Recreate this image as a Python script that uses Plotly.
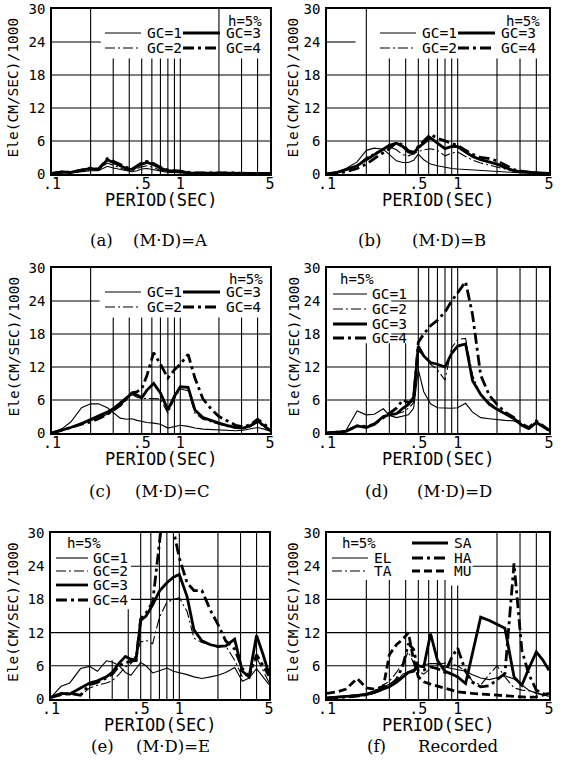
import plotly.graph_objects as go

# ---------------- data ----------------
PERIOD = [0.1, 0.12, 0.14, 0.17, 0.2, 0.23, 0.27, 0.3, 0.34, 0.38, 0.42, 0.46, 0.5, 0.55, 0.62,
          0.7, 0.8, 0.9, 1.0, 1.15, 1.3, 1.5, 1.75, 2.0, 2.3, 2.7, 3.1, 3.5, 4.0, 4.5, 5.0]

A_GC1 = [0, .2, .2, .4, .6, .6, 1.4, 1.1, .8, .5, .4, .6, .9, 1.0, .8, .5, .3, .3, .2, .1, .1, .1, .1, .1, .1, .1, .1, .1, .1, .1, .1]
A_GC2 = [0, .3, .2, .5, .8, .8, 2.0, 1.6, 1.1, .7, .6, 1.0, 1.3, 1.5, 1.2, .7, .4, .4, .3, .1, .1, .1, .1, .1, .1, .1, .1, .1, .1, .1, .1]
A_GC3 = [.1, .4, .3, .7, 1.0, .8, 2.6, 2.1, 1.5, 1.0, .8, 1.3, 1.8, 2.1, 1.7, 1.1, .6, .5, .5, .2, .2, .2, .2, .2, .2, .1, .1, .1, .1, .1, .1]
A_GC4 = [.1, .4, .3, .8, 1.1, .9, 2.8, 2.3, 1.7, 1.2, .9, 1.4, 2.0, 2.3, 1.9, 1.2, .7, .6, .5, .3, .2, .2, .2, .3, .2, .2, .1, .1, .1, .1, .1]

B_GC1 = [0, .4, 1.0, 2.2, 4.3, 4.7, 4.5, 3.5, 2.4, 2.1, 2.1, 2.5, 3.6, 2.6, 1.8, 1.5, 1.2, 1.0, .9, .8, .7, .6, .6, .5, .4, .3, .2, .2, .1, .1, .1]
B_GC2 = [0, .3, .7, 1.6, 3.0, 3.8, 4.6, 5.0, 4.4, 3.5, 3.3, 3.7, 4.1, 4.4, 4.6, 4.3, 3.3, 3.8, 4.0, 3.2, 2.5, 2.0, 1.6, 1.2, .8, .5, .3, .2, .2, .1, .1]
B_GC3 = [0, .3, .8, 1.5, 2.6, 3.5, 4.5, 5.2, 5.6, 5.0, 4.0, 3.8, 4.8, 5.6, 6.6, 5.6, 4.6, 5.0, 5.0, 4.0, 3.2, 2.6, 2.2, 1.8, 1.2, .6, .4, .3, .2, .1, .1]
B_GC4 = [0, .2, .4, 1.0, 1.8, 2.8, 3.8, 4.6, 5.7, 5.3, 4.2, 4.0, 5.0, 6.0, 7.2, 6.5, 6.0, 5.6, 5.2, 4.3, 3.6, 3.0, 2.8, 2.4, 1.6, .8, .5, .3, .2, .1, .1]

C_GC1 = [0, .8, 2.0, 4.6, 5.3, 5.3, 4.6, 3.8, 2.7, 2.5, 2.6, 2.3, 2.1, 1.9, 1.8, 1.6, .9, 1.1, 1.4, 1.2, .9, .7, .6, .6, .5, .4, .5, .7, 1.0, .7, .3]
C_GC2 = [0, .5, 1.0, 1.6, 2.2, 2.7, 3.4, 4.0, 5.0, 6.0, 7.0, 6.5, 6.3, 6.3, 6.3, 6.2, 3.6, 6.2, 8.0, 7.7, 3.6, 2.5, 2.0, 1.6, 1.2, .9, .8, 1.1, 1.9, 1.1, .4]
C_GC3 = [0, .5, 1.0, 1.7, 2.4, 3.0, 3.8, 4.4, 5.4, 6.4, 7.2, 6.9, 6.4, 7.8, 9.0, 7.3, 4.2, 6.7, 8.4, 8.3, 4.2, 2.8, 2.2, 1.8, 1.4, 1.0, .9, 1.3, 2.2, 1.3, .5]
C_GC4 = [0, .5, 1.0, 1.6, 2.0, 2.6, 3.4, 4.1, 5.0, 6.2, 7.3, 7.5, 8.0, 10.5, 14.6, 12.5, 10.0, 11.5, 12.5, 14.3, 10.0, 6.2, 4.3, 3.0, 2.2, 1.4, 1.1, 1.5, 2.5, 1.6, .8]

D_GC1 = [0, .1, .5, 4.0, 3.3, 3.4, 4.4, 3.2, 2.8, 3.0, 3.3, 4.5, 11.5, 7.5, 5.3, 4.6, 4.5, 4.5, 4.6, 5.4, 3.8, 2.8, 2.6, 2.4, 2.3, 2.2, 1.5, 1.0, 1.8, 1.2, .5]
D_GC2 = [0, .1, .3, 1.2, 1.0, 1.8, 2.8, 3.2, 3.5, 3.8, 4.5, 5.5, 15.0, 14.0, 12.5, 11.5, 9.6, 15.5, 17.0, 17.2, 10.5, 7.0, 5.5, 4.5, 3.5, 2.6, 1.6, .9, 2.0, 1.2, .5]
D_GC3 = [0, .1, .3, 1.3, 1.0, 1.6, 3.0, 3.3, 3.5, 4.5, 5.2, 6.5, 15.8, 14.0, 12.8, 12.5, 12.0, 14.5, 15.8, 16.2, 9.5, 7.0, 5.2, 4.3, 3.5, 2.6, 1.4, .8, 1.9, 1.2, .5]
D_GC4 = [0, .1, .3, 1.3, 1.2, 1.6, 2.8, 3.5, 4.5, 6.0, 5.5, 6.0, 16.5, 18.0, 19.5, 20.5, 22.0, 24.0, 25.5, 27.5, 21.5, 10.5, 6.8, 5.2, 3.8, 2.8, 1.6, 1.0, 2.2, 1.3, .5]

E_GC1 = [.3, 2.3, 2.9, 5.5, 5.9, 5.0, 6.9, 6.7, 6.0, 4.8, 4.3, 5.5, 6.6, 6.0, 4.7, 5.1, 5.6, 5.0, 4.8, 4.4, 4.0, 3.7, 4.0, 4.3, 4.8, 5.7, 3.2, 3.8, 5.5, 4.0, 2.6]
E_GC2 = [.3, .8, 1.0, .6, 2.0, 2.5, 2.9, 3.3, 4.5, 5.8, 6.4, 8.0, 10.3, 10.6, 10.0, 14.8, 17.5, 18.0, 18.3, 15.8, 11.0, 10.2, 9.8, 9.3, 9.6, 7.0, 4.0, 4.5, 7.5, 5.0, 3.0]
E_GC3 = [.3, 1.0, .9, 2.0, 2.9, 3.3, 4.0, 4.8, 6.5, 7.7, 7.2, 7.0, 14.2, 15.0, 17.0, 19.5, 21.0, 22.0, 22.5, 18.5, 12.5, 10.5, 9.8, 9.5, 9.6, 10.8, 5.0, 4.0, 11.5, 8.0, 4.5]
E_GC4 = [.3, .8, 1.0, .7, 2.6, 3.0, 3.8, 4.5, 6.0, 6.6, 6.8, 7.0, 14.5, 15.5, 17.5, 30.5, 40.0, 30.5, 25.5, 21.0, 19.6, 19.6, 16.0, 13.5, 10.5, 9.0, 5.5, 4.0, 8.0, 6.0, 4.2]

F_EL = [.3, .4, .6, .8, 1.0, 1.5, 2.2, 2.8, 3.2, 4.5, 5.0, 5.5, 5.8, 6.2, 6.4, 6.4, 5.8, 5.5, 5.3, 5.0, 4.4, 3.8, 3.5, 3.8, 4.2, 3.6, 2.6, 1.6, 1.0, .7, .5]
F_TA = [.2, .3, .5, .7, .9, 1.5, 2.5, 3.2, 4.8, 6.5, 8.5, 6.5, 5.0, 4.5, 5.5, 6.2, 6.5, 6.2, 6.0, 5.0, 3.2, 2.5, 4.5, 6.0, 4.0, 2.0, 1.6, 1.5, 1.2, .8, .5]
F_SA = [.2, .3, .4, .6, .8, 1.2, 1.8, 2.2, 3.0, 4.0, 4.8, 5.0, 6.0, 5.8, 11.8, 7.0, 5.0, 4.5, 4.0, 2.8, 8.5, 14.8, 14.2, 13.5, 12.8, 4.0, 2.5, 5.5, 8.5, 7.0, 5.2]
F_HA = [.1, .2, .3, .5, .8, 1.2, 1.8, 2.4, 3.5, 6.0, 10.0, 9.0, 5.0, 5.2, 5.8, 5.5, 4.8, 7.5, 9.2, 5.0, 3.0, 2.2, 2.4, 3.5, 4.6, 24.5, 8.8, 4.5, 1.6, 1.0, .6]
F_MU = [1.0, 1.3, 1.8, 3.7, 2.0, 1.8, 2.2, 8.0, 9.8, 10.8, 12.0, 7.0, 4.0, 3.1, 2.7, 2.3, 1.9, 1.6, 1.3, 1.1, 1.0, .9, .8, .6, .5, .4, .3, .3, .4, .7, 1.0]

GC_NAMES = ["GC=1", "GC=2", "GC=3", "GC=4"]
F_NAMES = ["EL", "TA", "SA", "HA", "MU"]
X_TICKVALS = [0.1, 0.5, 1, 5]
X_TICKTEXT = [".1", ".5", "1", "5"]
Y_TICKVALS = [0, 6, 12, 18, 24, 30]
GRID_PERIODS = [0.2, 0.3, 0.4, 0.5, 0.6, 0.7, 0.8, 0.9, 1, 2, 3, 4]
GRID_LEVELS = [6, 12, 18, 24]
CAPTIONS = [("(a)", "(M\u00b7D)=A"), ("(b)", "(M\u00b7D)=B"), ("(c)", "(M\u00b7D)=C"),
            ("(d)", "(M\u00b7D)=D"), ("(e)", "(M\u00b7D)=E"), ("(f)", "Recorded")]

# ---------------- layout / style ----------------
W, H = 563, 768
def fx(p): return p / W
def fy(p): return 1 - p / H

MONO = "DejaVu Sans Mono"
SERIF = "DejaVu Serif"

STYLE = {
    "thin": dict(width=1.1, dash="solid"),
    "thin_dd": dict(width=1.1, dash="10px,3px,2px,3px"),
    "thick": dict(width=2.8, dash="solid"),
    "thick_dd": dict(width=2.8, dash="11px,4px,3px,4px"),
    "thick_dash": dict(width=2.8, dash="8px,4px"),
}
GC_STYLES = ["thin", "thin_dd", "thick", "thick_dd"]
F_STYLES = ["thin", "thin_dd", "thick", "thick_dd", "thick_dash"]

# panel boxes in pixels: left, right, top, bottom
PANELS = [(52, 270, 9, 174), (327, 549, 9, 174),
          (52, 270, 268, 433), (327, 549, 268, 433),
          (51, 269, 533, 699), (327, 549, 533, 699)]

SERIES = [
    (GC_NAMES, GC_STYLES, [A_GC1, A_GC2, A_GC3, A_GC4]),
    (GC_NAMES, GC_STYLES, [B_GC1, B_GC2, B_GC3, B_GC4]),
    (GC_NAMES, GC_STYLES, [C_GC1, C_GC2, C_GC3, C_GC4]),
    (GC_NAMES, GC_STYLES, [D_GC1, D_GC2, D_GC3, D_GC4]),
    (GC_NAMES, GC_STYLES, [E_GC1, E_GC2, E_GC3, E_GC4]),
    (F_NAMES, F_STYLES, [F_EL, F_TA, F_SA, F_HA, F_MU]),
]

# top of each vertical grid line (grid lines stop below the legends)
V_TOPS = [
    [30, 21, 21, 21, 21, 21, 21, 21, 21, 30, 21, 21],
    [30, 21, 21, 21, 21, 21, 21, 21, 21, 21, 21, 21],
    [30, 21, 21, 21, 21, 21, 21, 21, 21, 21, 21, 21],
    [16.3, 16.3, 16.3, 30, 30, 30, 30, 30, 30, 30, 30, 30],
    [16.5, 7, 16.2, 30, 30, 30, 30, 30, 30, 30, 30, 30],
    [21.5, 21.5, 21.5, 21.5, 21.5, 21.5, 21.5, 20.5, 20.5, 30, 30, 30],
]
# extent of horizontal grid lines at 6, 12, 18, 24
H_SPANS = [
    [(0.1, 5), (0.1, 5), (0.1, 5), (0.1, 0.24)],
    [(0.1, 5), (0.1, 5), (0.1, 5), (0.1, 0.165)],
    [(0.1, 5), (0.1, 5), (0.1, 5), (0.1, 0.235)],
    [(0.1, 5), (0.1, 5), (0.31, 5), (0.31, 5)],
    [(0.1, 5), (0.1, 5), (0.42, 5), (0.42, 5)],
    [(0.1, 5), (0.1, 5), (0.1, 5), (1.3, 5)],
]

# legend layout relative to panel (left, top): (sample x0, sample x1, text x, y)
LEG_2COL = [(53, 89, 93, 24), (53, 89, 93, 39), (131, 168, 172, 24), (131, 168, 172, 39)]
LEG_D = [(6, 40, 43, 26), (6, 40, 43, 41), (6, 40, 43, 56), (6, 40, 43, 70)]
LEG_E = [(5, 37, 40, 25), (5, 37, 40, 38), (5, 37, 40, 52), (5, 37, 40, 67)]
LEG_F = [(5, 41, 45, 25), (5, 41, 45, 38), (85, 121, 125, 10), (85, 121, 125, 25), (85, 121, 125, 38)]
LEGENDS = [LEG_2COL, LEG_2COL, LEG_2COL, LEG_D, LEG_E, LEG_F]
# "h=5%" position: (x rel, y rel, anchor)
HNOTE = [(212, 12, "right"), (215, 12, "right"), (213, 11, "right"),
         (11, 11, "left"), (14, 10, "left"), (13, 10, "left")]

CAP_LEFT_X = [101, 369, 100, 376, 102, 376]
CAP_RIGHT_X = [170, 449, 172, 455, 173, 458]
CAP_Y = [240, 240, 491, 491, 746, 746]
YTITLE_X = [13, 293, 13, 293, 13, 293]

for _n, _s, ys in SERIES:
    for y in ys:
        assert len(y) == len(PERIOD), len(y)

fig = go.Figure()
shapes = []
annotations = []
layout_axes = {}

for i, (box, (names, styles, ys)) in enumerate(zip(PANELS, SERIES)):
    n = i + 1
    xa = "x" if n == 1 else f"x{n}"
    ya = "y" if n == 1 else f"y{n}"
    left, right, top, bottom = box

    # grid lines (drawn through the axes as a trace)
    gx, gy = [], []
    for p, t in zip(GRID_PERIODS, V_TOPS[i]):
        gx += [p, p, None]
        gy += [0, t, None]
    for lvl, (a, b) in zip(GRID_LEVELS, H_SPANS[i]):
        gx += [a, b, None]
        gy += [lvl, lvl, None]
    fig.add_trace(go.Scatter(x=gx, y=gy, mode="lines", xaxis=xa, yaxis=ya,
                             line=dict(color="black", width=1.1),
                             showlegend=False, hoverinfo="skip"))

    for name, st, y in zip(names, styles, ys):
        fig.add_trace(go.Scatter(x=PERIOD, y=y, mode="lines", name=name,
                                 xaxis=xa, yaxis=ya,
                                 line=dict(color="black", **STYLE[st]),
                                 showlegend=False))

    xkey = "xaxis" if n == 1 else f"xaxis{n}"
    ykey = "yaxis" if n == 1 else f"yaxis{n}"
    layout_axes[xkey] = dict(
        type="log", range=[-1, 0.69897], domain=[fx(left), fx(right)], anchor=ya,
        tickvals=X_TICKVALS, ticktext=X_TICKTEXT, showgrid=False, zeroline=False,
        showline=True, mirror=True, linecolor="black", linewidth=1.6,
        ticks="", ticklen=0, ticklabelstandoff=-5, automargin=False,
        tickfont=dict(family=MONO, size=15, color="black"))
    layout_axes[ykey] = dict(
        range=[0, 30], domain=[fy(bottom), fy(top)], anchor=xa,
        tickvals=Y_TICKVALS, showgrid=False, zeroline=False,
        showline=True, mirror=True, linecolor="black", linewidth=1.6,
        ticks="", ticklen=0, ticklabelstandoff=2, automargin=False,
        tickfont=dict(family=MONO, size=14, color="black"))

    # custom legend
    for name, st, (sx0, sx1, tx, ty) in zip(names, styles, LEGENDS[i]):
        shapes.append(dict(type="line", xref="paper", yref="paper",
                           x0=fx(left + sx0), x1=fx(left + sx1),
                           y0=fy(top + ty), y1=fy(top + ty),
                           line=dict(color="black", **STYLE[st])))
        annotations.append(dict(text=name, xref="paper", yref="paper",
                                x=fx(left + tx), y=fy(top + ty), xanchor="left",
                                yanchor="middle", showarrow=False,
                                font=dict(family=MONO, size=14.5, color="black")))
    hx, hy, anc = HNOTE[i]
    annotations.append(dict(text="h=5%", xref="paper", yref="paper",
                            x=fx(left + hx), y=fy(top + hy), xanchor=anc,
                            yanchor="middle", showarrow=False,
                            font=dict(family=MONO, size=14, color="black")))

    # axis titles
    annotations.append(dict(text="PERIOD(SEC)", xref="paper", yref="paper",
                            x=fx((left + right) / 2), y=fy(bottom + 26),
                            xanchor="center", yanchor="middle", showarrow=False,
                            font=dict(family=MONO, size=17, color="black")))
    annotations.append(dict(text="Ele(CM/SEC)/1000", xref="paper", yref="paper",
                            x=fx(YTITLE_X[i]), y=fy((top + bottom) / 2 - 4),
                            xanchor="center", yanchor="middle", textangle=-90,
                            showarrow=False,
                            font=dict(family=MONO, size=14.5, color="black")))
    # caption
    c1, c2 = CAPTIONS[i]
    annotations.append(dict(text=c1, xref="paper", yref="paper",
                            x=fx(CAP_LEFT_X[i]), y=fy(CAP_Y[i]),
                            xanchor="center", yanchor="middle", showarrow=False,
                            font=dict(family=SERIF, size=16.5, color="black")))
    annotations.append(dict(text=c2, xref="paper", yref="paper",
                            x=fx(CAP_RIGHT_X[i]), y=fy(CAP_Y[i]),
                            xanchor="center", yanchor="middle", showarrow=False,
                            font=dict(family=SERIF, size=16.5, color="black")))

fig.update_layout(
    width=W, height=H, margin=dict(l=0, r=0, t=0, b=0, autoexpand=False),
    paper_bgcolor="white", plot_bgcolor="white",
    font=dict(family=MONO, color="black"),
    showlegend=False, shapes=shapes, annotations=annotations,
    **layout_axes)

fig.write_html("out.html")
